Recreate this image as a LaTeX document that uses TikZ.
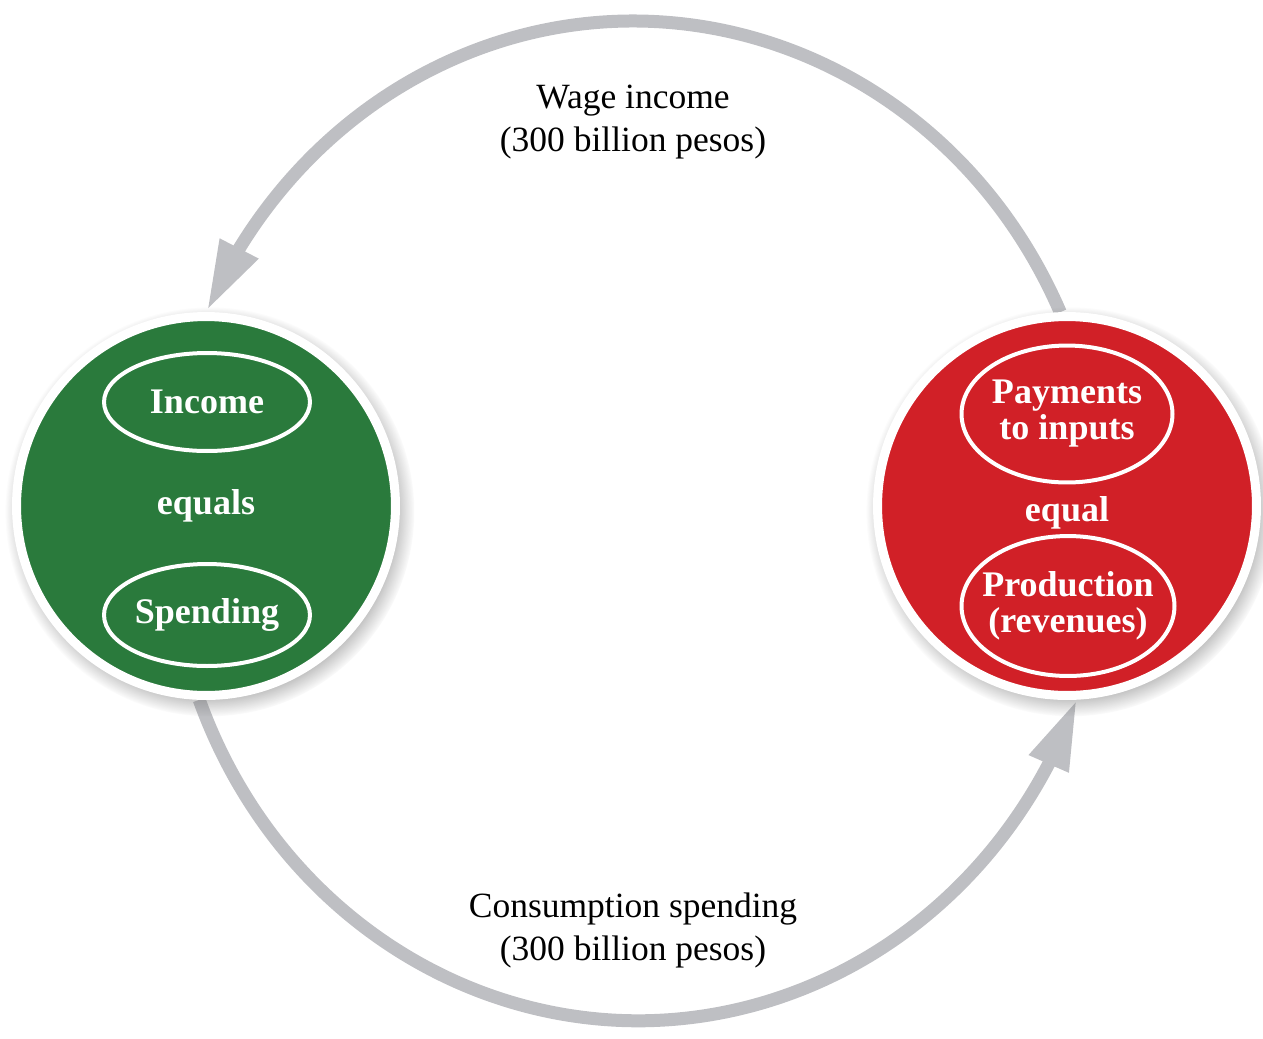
\documentclass[tikz,border=0pt]{standalone}
\usepackage{fontspec}
\setmainfont{Liberation Serif}
\usetikzlibrary{shapes,arrows.meta,bending,shadows,backgrounds,calc,positioning}
\definecolor{ringgrey}{RGB}{190,191,195}
\definecolor{hhgreen}{RGB}{42,122,60}
\definecolor{firmred}{RGB}{209,32,39}

\begin{document}
\begin{tikzpicture}[x=0.02cm,y=-0.02cm,
  flow/.style={draw=ringgrey,line width=0.26cm,-{Triangle[length=1.4cm,width=0.8cm]}},
  sector/.style={circle,draw=white,line width=0.18cm,minimum size=7.58cm,inner sep=0pt,
    circular drop shadow={shadow scale=1.08,shadow xshift=2pt,shadow yshift=-3pt,opacity=0.7,fill=black!55}},
  tag/.style={ellipse,draw=white,line width=0.08cm,inner sep=0pt,inner xsep=-0.3cm,text=white,align=center,
    font=\fontsize{20.5}{20.5}\selectfont\bfseries},
  word/.style={text=white,font=\fontsize{20.5}{20.5}\selectfont\bfseries},
  flowlabel/.style={align=center,font=\fontsize{20.2}{24.5}\selectfont}]
\useasboundingbox (0,0) rectangle (1263,1038);

\node[sector,fill=hhgreen] at (206,506) (hh) {};
\node[sector,fill=firmred] at (1067,506) (firm) {};

\node[tag,minimum width=4.12cm,minimum height=1.96cm] at (207,402) (inc) {Income};
\node[word] at (206,506) (eq1) {equals};
\node[tag,minimum width=4.12cm,minimum height=2.04cm] at (207,615) (spd) {Spending};

\node[tag,minimum width=4.22cm,minimum height=2.74cm] at (1067,414) (pay) {Payments\\to inputs};
\node[word] at (1067,513) (eq2) {equal};
\node[tag,minimum width=4.26cm,minimum height=2.8cm] at (1068,606) (prod) {Production\\(revenues)};

\node[flowlabel] at (633,122) (wage) {Wage income\\(300 billion pesos)};
\node[flowlabel] at (633,930) (cons) {Consumption spending\\(300 billion pesos)};

\begin{pgfonlayer}{background}
\draw[flow] (firm.92) arc[start angle=-24.7,end angle=-155.1,x radius=470,y radius=500];
\draw[flow] (hh.268) arc[start angle=159,end angle=21,x radius=470,y radius=500];
\end{pgfonlayer}
\end{tikzpicture}
\end{document}
